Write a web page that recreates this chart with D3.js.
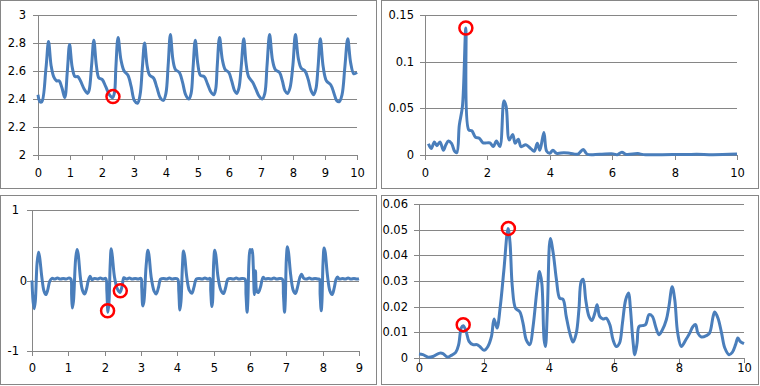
<!DOCTYPE html>
<html lang="en">
<head>
<meta charset="UTF-8" />
<title>Signals and spectra</title>
<script src="https://cdn.jsdelivr.net/npm/d3@7"></script>
<style>
  body { margin: 0; background: #fff; }
  svg { display: block; }
  .tick text { font-family: "DejaVu Sans", sans-serif; font-size: 11.5px; fill: #000; }
  .domain, .tick line { stroke: #868686; }
</style>
</head>
<body>
<div id="chart"></div>
<script>
// ---- data ----
// top left: pulse wave, time (s) vs value
var pulseSeries = [
  [0.00,2.43],[0.06,2.38],[0.12,2.38],[0.25,2.62],[0.33,2.81],[0.41,2.64],[0.49,2.56],[0.58,2.53],[0.66,2.53],[0.75,2.48],[0.84,2.41],
  [0.92,2.60],[0.99,2.79],[1.07,2.63],[1.16,2.56],[1.25,2.56],[1.33,2.53],[1.45,2.47],[1.55,2.44],[1.60,2.46],
  [1.68,2.64],[1.75,2.82],[1.83,2.64],[1.91,2.55],[2.01,2.54],[2.12,2.49],[2.24,2.43],[2.34,2.41],[2.40,2.45],
  [2.44,2.62],[2.51,2.84],[2.60,2.68],[2.70,2.60],[2.82,2.57],[2.92,2.49],[3.02,2.39],[3.12,2.37],[3.20,2.43],
  [3.27,2.62],[3.34,2.80],[3.42,2.64],[3.50,2.57],[3.62,2.55],[3.73,2.48],[3.83,2.41],[3.93,2.39],[4.01,2.44],
  [4.08,2.64],[4.15,2.86],[4.23,2.68],[4.31,2.61],[4.43,2.59],[4.53,2.52],[4.63,2.43],[4.73,2.40],[4.80,2.44],
  [4.86,2.62],[4.93,2.82],[5.01,2.65],[5.09,2.57],[5.21,2.56],[5.31,2.51],[5.42,2.45],[5.51,2.43],[5.57,2.47],
  [5.62,2.64],[5.69,2.84],[5.78,2.68],[5.87,2.61],[5.98,2.59],[6.07,2.53],[6.16,2.46],[6.23,2.44],[6.30,2.48],
  [6.37,2.63],[6.45,2.83],[6.52,2.66],[6.60,2.56],[6.73,2.52],[6.83,2.47],[6.93,2.42],[7.03,2.40],[7.11,2.44],
  [7.18,2.64],[7.26,2.86],[7.35,2.68],[7.44,2.61],[7.57,2.59],[7.66,2.53],[7.74,2.46],[7.82,2.44],[7.90,2.48],
  [7.99,2.64],[8.07,2.86],[8.16,2.69],[8.25,2.62],[8.37,2.60],[8.47,2.54],[8.56,2.46],[8.64,2.43],[8.71,2.47],
  [8.78,2.63],[8.85,2.83],[8.94,2.63],[9.04,2.53],[9.18,2.50],[9.28,2.44],[9.36,2.39],[9.44,2.38],[9.53,2.43],
  [9.62,2.63],[9.71,2.83],[9.80,2.66],[9.90,2.58],[10.0,2.59]
];
var pulseMarks = [[2.35,2.417]];

// top right: spectrum of the pulse wave
var pulseSpectrum = [
  [0.11,0.012],[0.20,0.007],[0.30,0.014],[0.38,0.010],[0.48,0.014],[0.59,0.005],[0.67,0.011],[0.75,0.015],
  [0.85,0.0125],[0.95,0.004],[1.02,0.0025],[1.10,0.032],[1.20,0.052],[1.31,0.136],[1.40,0.027],[1.50,0.026],
  [1.62,0.019],[1.74,0.018],[1.86,0.013],[2.08,0.013],[2.19,0.009],[2.29,0.015],[2.40,0.009],[2.53,0.058],
  [2.60,0.052],[2.70,0.016],[2.81,0.022],[2.89,0.0125],[2.99,0.017],[3.08,0.009],[3.23,0.011],[3.40,0.0065],
  [3.50,0.004],[3.60,0.0125],[3.68,0.005],[3.81,0.024],[3.90,0.004],[4.00,0.002],[4.10,0.005],[4.22,0.0018],
  [4.45,0.0025],[4.64,0.002],[4.90,0.001],[5.07,0.006],[5.20,0.0008],[5.60,0.0008],[6.03,0.0012],[6.16,0.0003],
  [6.31,0.003],[6.45,0.0006],[6.82,0.0015],[7.00,0.0004],[7.60,0.0004],[8.38,0.0005],[8.70,0.0008],[9.23,0.0004],
  [10.0,0.001]
];
var pulseSpectrumMarks = [[1.31,0.136]];

// bottom left: ecg-like signal
var ecgSeries = [
  [0.00,0.00],[0.03,-0.30],[0.06,-0.40],[0.09,-0.30],[0.14,0.25],[0.18,0.40],[0.21,0.33],[0.27,0.05],[0.33,-0.15],[0.38,-0.20],
  [0.43,-0.14],[0.49,-0.01],[0.55,0.03],[0.62,0.02],[0.70,0.035],[0.78,0.02],[0.86,0.03],[0.94,0.02],[1.02,0.035],[1.07,0.02],
  [1.09,-0.20],[1.11,-0.39],[1.14,-0.30],[1.20,0.30],[1.24,0.44],[1.27,0.38],[1.33,0.05],[1.39,-0.14],[1.45,-0.19],[1.50,-0.12],
  [1.55,0.00],[1.60,0.06],[1.65,0.01],[1.72,0.03],[1.80,0.02],[1.88,0.035],[1.96,0.02],[2.03,0.03],
  [2.06,-0.15],[2.09,-0.45],[2.12,-0.30],[2.15,0.20],[2.18,0.45],[2.21,0.35],[2.27,0.05],[2.35,-0.12],[2.42,-0.17],[2.48,-0.08],
  [2.53,0.04],[2.60,0.02],[2.68,0.035],[2.76,0.02],[2.84,0.03],[2.92,0.02],[3.00,0.03],
  [3.02,-0.10],[3.05,-0.36],[3.08,-0.30],[3.14,0.20],[3.19,0.43],[3.22,0.36],[3.28,0.05],[3.36,-0.15],[3.42,-0.19],[3.48,-0.10],
  [3.54,0.02],[3.62,0.03],[3.70,0.02],[3.78,0.035],[3.86,0.02],[3.94,0.03],[4.01,0.02],
  [4.04,-0.15],[4.07,-0.42],[4.10,-0.30],[4.14,0.20],[4.17,0.42],[4.20,0.35],[4.26,0.05],[4.33,-0.14],[4.40,-0.18],[4.46,-0.09],
  [4.52,0.02],[4.60,0.03],[4.68,0.02],[4.76,0.035],[4.84,0.02],[4.90,0.03],
  [4.92,-0.15],[4.95,-0.37],[4.97,-0.30],[5.00,0.25],[5.03,0.43],[5.06,0.36],[5.12,0.05],[5.20,-0.14],[5.27,-0.185],[5.33,-0.10],
  [5.39,0.02],[5.46,0.03],[5.54,0.02],[5.62,0.035],[5.70,0.02],[5.78,0.03],[5.86,0.02],
  [5.89,-0.20],[5.92,-0.45],[5.94,-0.30],[5.97,0.25],[6.00,0.44],[6.03,0.40],[6.06,0.44],[6.09,0.20],[6.12,-0.20],[6.15,0.14],
  [6.19,-0.16],[6.23,-0.17],[6.29,-0.09],[6.36,0.045],[6.42,0.02],[6.50,0.03],[6.58,0.02],[6.66,0.035],[6.74,0.02],[6.82,0.03],[6.89,0.02],
  [6.92,-0.20],[6.95,-0.45],[6.97,-0.30],[7.00,0.30],[7.03,0.48],[7.06,0.40],[7.12,0.08],[7.19,-0.14],[7.25,-0.185],[7.31,-0.09],
  [7.37,0.04],[7.42,0.09],[7.48,0.03],[7.55,0.02],[7.63,0.035],[7.71,0.02],[7.79,0.03],[7.87,0.02],[7.91,0.02],
  [7.93,-0.20],[7.96,-0.43],[7.98,-0.30],[8.01,0.25],[8.04,0.46],[8.07,0.40],[8.13,0.08],[8.20,-0.15],[8.26,-0.20],[8.32,-0.10],
  [8.37,0.02],[8.41,0.05],[8.46,0.02],[8.54,0.03],[8.62,0.02],[8.70,0.035],[8.78,0.02],[8.86,0.03],[8.94,0.02],[9.00,0.025]
];
var ecgMarks = [[2.08,-0.43],[2.43,-0.147]];

// bottom right: spectrum of the ecg-like signal
var ecgSpectrum = [
  [0.00,0.0016],[0.12,0.0013],[0.28,0.0003],[0.43,0.0006],[0.64,0.0019],[0.74,0.0017],[0.87,0.0004],[0.99,0.001],
  [1.13,0.0022],[1.22,0.0052],[1.30,0.0117],[1.36,0.0126],[1.44,0.0108],[1.54,0.0065],[1.66,0.0052],[1.78,0.0052],
  [1.87,0.0045],[2.00,0.003],[2.12,0.0045],[2.23,0.0084],[2.31,0.0152],[2.40,0.0117],[2.50,0.020],[2.61,0.034],
  [2.74,0.0505],[2.80,0.045],[2.87,0.028],[2.97,0.0194],[3.10,0.018],[3.20,0.0136],[3.30,0.0071],[3.41,0.0052],
  [3.51,0.0123],[3.63,0.0266],[3.71,0.0337],[3.78,0.029],[3.85,0.0071],[3.89,0.0045],[3.95,0.0188],[4.04,0.0466],
  [4.13,0.0408],[4.23,0.0304],[4.33,0.0233],[4.43,0.0229],[4.53,0.0162],[4.64,0.0097],[4.74,0.0062],[4.84,0.0097],
  [4.92,0.0188],[4.99,0.0298],[5.05,0.0307],[5.13,0.0227],[5.23,0.0162],[5.32,0.0146],[5.41,0.0175],[5.48,0.0207],
  [5.56,0.0162],[5.66,0.0152],[5.76,0.0155],[5.87,0.013],[5.97,0.0071],[6.07,0.0045],[6.17,0.0058],[6.26,0.0136],
  [6.36,0.0227],[6.45,0.0253],[6.50,0.0201],[6.58,0.0071],[6.64,0.0013],[6.71,0.0058],[6.77,0.0123],[6.87,0.0126],
  [6.97,0.013],[7.08,0.0169],[7.18,0.0162],[7.28,0.0123],[7.38,0.0091],[7.49,0.011],[7.61,0.0149],[7.69,0.0201],
  [7.79,0.0278],[7.87,0.0227],[7.96,0.0097],[8.07,0.0045],[8.21,0.0071],[8.33,0.0097],[8.43,0.0123],[8.51,0.013],
  [8.58,0.0097],[8.69,0.0082],[8.84,0.0087],[8.94,0.0097],[9.05,0.0162],[9.10,0.0179],[9.20,0.0155],[9.31,0.0097],
  [9.41,0.0039],[9.54,0.0013],[9.64,0.0022],[9.74,0.0052],[9.81,0.0078],[9.88,0.0065],[10.0,0.0056]
];
var ecgSpectrumMarks = [[1.36,0.013],[2.75,0.0505]];

// tick values and labels
var pulseXTicks = [0,1,2,3,4,5,6,7,8,9,10];
var pulseYTicks = [2,2.2,2.4,2.6,2.8,3];
var pulseYLabels = ["2","2.2","2.4","2.6","2.8","3"];
var specXTicks = [0,2,4,6,8,10];
var pulseSpecYTicks = [0,0.05,0.1,0.15];
var pulseSpecYLabels = ["0","0.05","0.1","0.15"];
var ecgXTicks = [0,1,2,3,4,5,6,7,8,9];
var ecgYTicks = [-1,0,1];
var ecgYLabels = ["-1","0","1"];
var ecgSpecYTicks = [0,0.01,0.02,0.03,0.04,0.05,0.06];
var ecgSpecYLabels = ["0","0.01","0.02","0.03","0.04","0.05","0.06"];

// ---- drawing ----
var W = 760, H = 386;
var svg = d3.select("#chart").append("svg").attr("width", W).attr("height", H);

var panels = [
  { frame: [0.5, 0.5, 376, 188], box: { l: 38, r: 357, t: 15, b: 155 },
    xDom: [0, 10], yDom: [2, 3], xTicks: pulseXTicks, yTicks: pulseYTicks, yLabels: pulseYLabels,
    xPad: 9, yPad: 7, data: pulseSeries, marks: pulseMarks },
  { frame: [381.5, 0.5, 377, 188], box: { l: 425, r: 737, t: 15, b: 155 },
    xDom: [0, 10], yDom: [0, 0.15], xTicks: specXTicks, yTicks: pulseSpecYTicks, yLabels: pulseSpecYLabels,
    xPad: 9, yPad: 6, data: pulseSpectrum, marks: pulseSpectrumMarks },
  { frame: [0.5, 195.5, 376, 189], box: { l: 32, r: 359, t: 210, b: 351 },
    xDom: [0, 9], yDom: [-1, 1], xTicks: ecgXTicks, yTicks: ecgYTicks, yLabels: ecgYLabels,
    xPad: 8, yPad: 8, data: ecgSeries, marks: ecgMarks, zeroShift: 8 },
  { frame: [381.5, 195.5, 377, 189], box: { l: 419, r: 744, t: 204, b: 358 },
    xDom: [0, 10], yDom: [0, 0.06], xTicks: specXTicks, yTicks: ecgSpecYTicks, yLabels: ecgSpecYLabels,
    xPad: 1, yPad: 6, data: ecgSpectrum, marks: ecgSpectrumMarks }
];

panels.forEach(function (p) {
  var g = svg.append("g");
  var b = p.box;

  g.append("rect")
    .attr("x", p.frame[0]).attr("y", p.frame[1])
    .attr("width", p.frame[2]).attr("height", p.frame[3])
    .attr("fill", "#fff").attr("stroke", "#868686");

  var x = d3.scaleLinear().domain(p.xDom).range([b.l, b.r]);
  var y = d3.scaleLinear().domain(p.yDom).range([b.b, b.t]);
  var xr = x.copy().interpolate(d3.interpolateRound);
  var yr = y.copy().interpolate(d3.interpolateRound);

  // horizontal gridlines
  g.selectAll(".grid").data(p.yTicks).enter().append("line")
    .attr("x1", b.l).attr("x2", b.r)
    .attr("y1", function (d) { return yr(d) + 0.5; })
    .attr("y2", function (d) { return yr(d) + 0.5; })
    .attr("stroke", "#868686");

  var yAxis = g.append("g")
    .attr("transform", "translate(" + b.l + ",0)")
    .call(d3.axisLeft(yr).tickValues(p.yTicks).tickSize(5).tickSizeOuter(0).tickPadding(p.yPad)
      .tickFormat(function (d, i) { return p.yLabels[i]; }));
  if (p.zeroShift) {
    yAxis.selectAll(".tick text")
      .filter(function (d) { return d === 0; })
      .attr("x", -5 - p.zeroShift + 8);
  }

  g.append("g")
    .attr("transform", "translate(0," + b.b + ")")
    .call(d3.axisBottom(xr).tickValues(p.xTicks).tickSize(5).tickSizeOuter(0).tickPadding(p.xPad)
      .tickFormat(d3.format("d")));

  var line = d3.line()
    .x(function (d) { return x(d[0]); })
    .y(function (d) { return y(d[1]); })
    .curve(d3.curveCatmullRom.alpha(0.5));

  g.append("path")
    .attr("d", line(p.data))
    .attr("fill", "none")
    .attr("stroke", "#4a7ebb")
    .attr("stroke-width", 3)
    .attr("stroke-linejoin", "round");

  g.selectAll(".mark").data(p.marks).enter().append("circle")
    .attr("cx", function (d) { return x(d[0]); })
    .attr("cy", function (d) { return y(d[1]); })
    .attr("r", 6.5)
    .attr("fill", "none")
    .attr("stroke", "#ff0000")
    .attr("stroke-width", 2.5);
});
</script>
</body>
</html>
